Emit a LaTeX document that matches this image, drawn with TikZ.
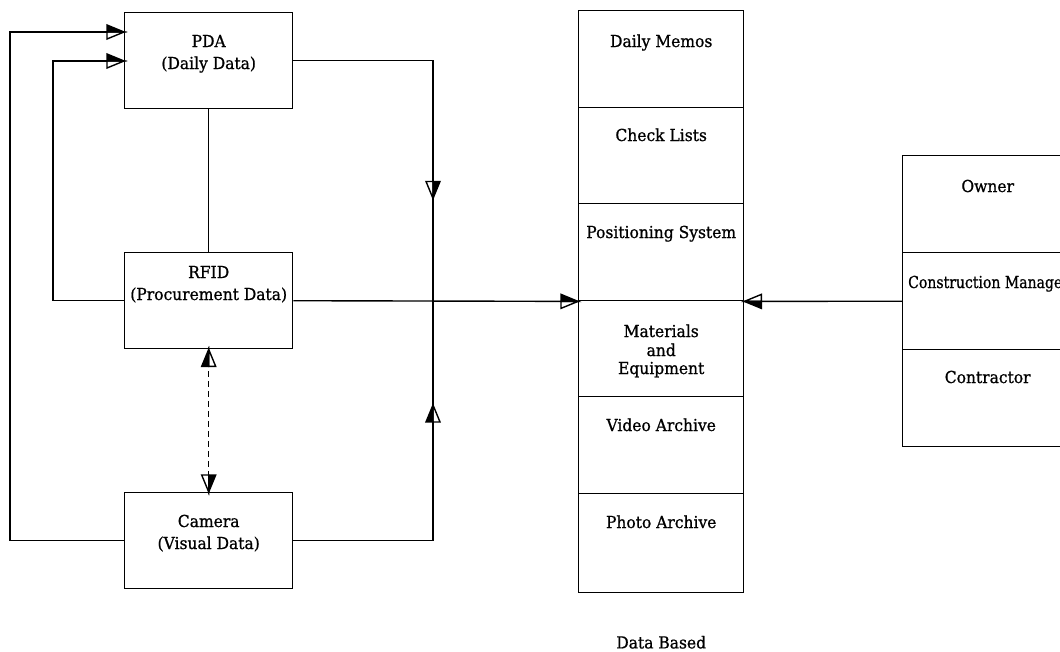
\documentclass[tikz,border=0pt]{standalone}
\usepackage{fontspec}
\setmainfont{DejaVu Serif}[FakeStretch=0.94,FakeBold=0.9]
\usetikzlibrary{decorations.markings,calc}

\pgfdeclarearrow{
  name = Half,
  parameters = {},
  setup code = {
    \pgfarrowssettipend{0pt}
    \pgfarrowssetlineend{-2pt}
    \pgfarrowssetvisualbackend{-17pt}
    \pgfarrowsupperhullpoint{-17pt}{7pt}
    \pgfarrowshullpoint{0pt}{0pt}
  },
  drawing code = {
    \pgfsetdash{}{0pt}
    \pgfsetmiterjoin
    \pgfpathmoveto{\pgfqpoint{0pt}{0pt}}
    \pgfpathlineto{\pgfqpoint{-17pt}{-7pt}}
    \pgfpathlineto{\pgfqpoint{-17pt}{0pt}}
    \pgfpathclose
    \pgfsetfillcolor{white}
    \pgfusepathqfillstroke
    \pgfpathmoveto{\pgfqpoint{0pt}{0pt}}
    \pgfpathlineto{\pgfqpoint{-17pt}{7pt}}
    \pgfpathlineto{\pgfqpoint{-17pt}{0pt}}
    \pgfpathclose
    \pgfsetfillcolor{black}
    \pgfusepathqfillstroke
  }
}

\tikzset{
  box/.style={draw, line width=1.4pt, minimum width=168pt, minimum height=96pt, inner sep=0pt, anchor=north west},
  cell/.style={draw, line width=1.4pt, minimum width=165pt, inner sep=0pt, anchor=north west},
  party/.style={draw, line width=1.4pt, minimum width=170pt, minimum height=97pt, inner sep=0pt, anchor=north west},
  lbl/.style={anchor=base, inner sep=0pt, font=\fontsize{16.5}{18}\selectfont},
  link/.style={line width=1.4pt},
  arr/.style={link, -Half},
}

\begin{document}
\begin{tikzpicture}[x=1pt,y=-1pt]
\useasboundingbox (0,0) rectangle (1060,651);
\clip (0,0) rectangle (1060,651);

% left boxes
\node[box] (pda) at (124,12) {};
\node[box] (rfid) at (124,252) {};
\node[box] (cam) at (124,492) {};
\node[lbl] (pdaA) at ($(pda.north)+(0,35)$) {PDA};
\node[lbl] (pdaB) at ($(pda.north)+(0,57)$) {(Daily Data)};
\node[lbl] (rfidA) at ($(rfid.north)+(0,26)$) {RFID};
\node[lbl] (rfidB) at ($(rfid.north)+(0,48)$) {(Procurement Data)};
\node[lbl] (camA) at ($(cam.north)+(0,35)$) {Camera};
\node[lbl] (camB) at ($(cam.north)+(0,57)$) {(Visual Data)};

% data base column
\node[cell, minimum height=97pt] (dm) at (578,10) {};
\node[cell, minimum height=96pt] (cl) at (578,107) {};
\node[cell, minimum height=97pt] (ps) at (578,203) {};
\node[cell, minimum height=96pt] (me) at (578,300) {};
\node[cell, minimum height=97pt] (va) at (578,396) {};
\node[cell, minimum height=99pt] (pa) at (578,493) {};
\node[lbl] (dmT) at ($(dm.north)+(0,37)$) {Daily Memos};
\node[lbl] (clT) at ($(cl.north)+(0,34)$) {Check Lists};
\node[lbl] (psT) at ($(ps.north)+(0,35)$) {Positioning System};
\node[lbl] (meA) at ($(me.north)+(0,37)$) {Materials};
\node[lbl] (meB) at ($(me.north)+(0,56)$) {and};
\node[lbl] (meC) at ($(me.north)+(0,74)$) {Equipment};
\node[lbl] (vaT) at ($(va.north)+(0,35)$) {Video Archive};
\node[lbl] (paT) at ($(pa.north)+(0,35)$) {Photo Archive};
\node[lbl] (dbT) at ($(pa.south)+(0,55)$) {Data Based};

% parties
\node[party] (ow) at (902,155) {};
\node[party] (cm) at (902,252) {};
\node[party] (co) at (902,349) {};
\node[lbl] (owT) at ($(ow.north)+(0,37)$) {Owner};
\node[lbl, anchor=base west, font=\fontsize{16.5}{18}\selectfont\addfontfeatures{FakeStretch=0.85}] (cmT) at ($(cm.north west)+(6,36)$) {Construction Manager};
\node[lbl] (coT) at ($(co.north)+(0,34)$) {Contractor};

% connectors
\coordinate (j) at (433,300);
\coordinate (in1) at ($(pda.north west)+(0,20)$);
\coordinate (in2) at ($(pda.north west)+(0,49)$);
\draw[arr] (cam.west) -- ++(-114,0) |- (in1);
\draw[arr] (rfid.west) -- ++(-71,0) |- (in2);
\draw[link] (pda.south) -- (rfid.north);
\draw[link, dash pattern=on 6pt off 4pt, Half-Half] (rfid.south) -- (cam.north);
\draw[link, postaction={decorate}, decoration={markings, mark=at position 0.732 with {\arrow{Half}}}] (pda.east) -| (j);
\draw[link, postaction={decorate}, decoration={markings, mark=at position 0.724 with {\arrow{Half}}}] (cam.east) -| (j);
\draw[arr] (rfid.east) -- (ps.south west);
\draw[arr] (cm.west) -- (ps.south east);
\end{tikzpicture}
\end{document}
